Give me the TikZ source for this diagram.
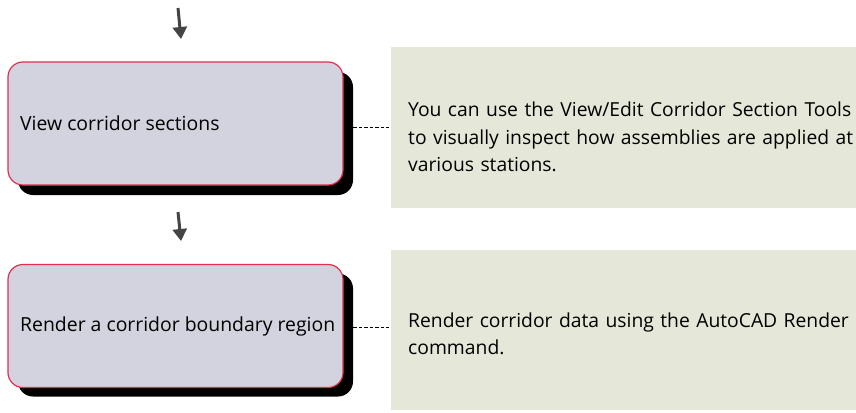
\documentclass[tikz,border=0pt]{standalone}
\usepackage{fontspec}
\setmainfont{Open Sans}
\usetikzlibrary{arrows.meta}
\definecolor{boxfill}{HTML}{D3D3DF}
\definecolor{boxline}{HTML}{E0304F}
\definecolor{notefill}{HTML}{E5E8D9}
\definecolor{arrowcol}{HTML}{444444}
\tikzset{
  stepbox/.style={draw=boxline, line width=1.2pt, fill=boxfill, rounded corners=15pt,
    minimum width=335pt, minimum height=123pt, inner sep=0pt, anchor=center},
  steptext/.style={anchor=west, inner sep=0pt, font=\fontsize{19.4}{27}\selectfont},
  shadowbox/.style={fill=black, rounded corners=15pt, minimum width=335pt, minimum height=123pt},
  notebox/.style={fill=notefill},
  notetext/.style={anchor=west, align=left, text width=460pt, inner sep=0pt,
    font=\fontsize{19.3}{27.5}\selectfont},
  flowarrow/.style={draw=arrowcol, line width=3pt, -{Triangle[width=14pt,length=12pt]}, arrowcol},
  linkline/.style={draw=black, dash pattern=on 3.5pt off 2pt, line width=0.7pt}
}
\begin{document}
\begin{tikzpicture}[x=1pt,y=-1pt]
\useasboundingbox (0,0) rectangle (856,412);
% note boxes
\fill[notebox] (391,47) rectangle (856,208);
\fill[notebox] (391,250) rectangle (856,410);
\node[notetext] (t1) at (408,137) {You can use the View/Edit Corridor Section Tools\\ to visually inspect how assemblies are applied at\\ various stations.};
\node[notetext] (t2) at (408,334) {Render corridor data using the AutoCAD Render\\ command.};
% shadows
\node[shadowbox] (s1) at (185.5,133.5) {};
\node[shadowbox] (s2) at (185.5,335) {};
% boxes
\node[stepbox] (b1) at (175.5,123.5) {};
\node[stepbox] (b2) at (175.5,326) {};
\node[steptext] (b1t) at (20,123.5) {View corridor sections};
\node[steptext] (b2t) at (20,326) {Render a corridor boundary region};
% arrows
\coordinate (a1s) at (178,8);
\coordinate (a1e) at (181,39);
\coordinate (a2s) at (178,212);
\coordinate (a2e) at (181,241);
\draw[flowarrow] (a1s) -- (a1e);
\draw[flowarrow] (a2s) -- (a2e);
% dashed links
\coordinate (l1s) at (353,127);
\coordinate (l1e) at (389,127);
\coordinate (l2s) at (353,327);
\coordinate (l2e) at (389,327);
\draw[linkline] (l1s) -- (l1e);
\draw[linkline] (l2s) -- (l2e);
\end{tikzpicture}
\end{document}
